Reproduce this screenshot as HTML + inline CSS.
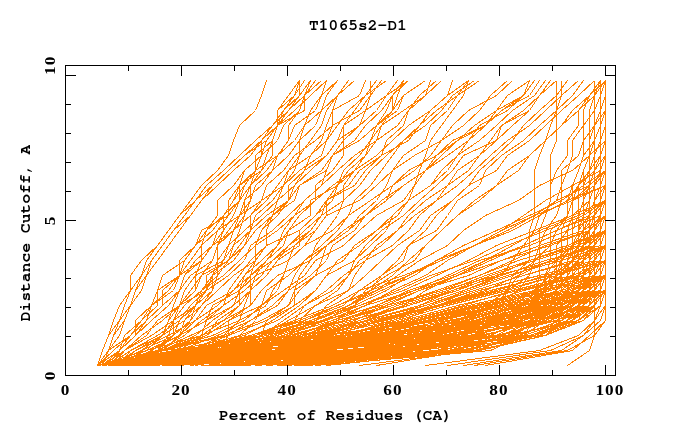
<!DOCTYPE html>
<html><head><meta charset="utf-8"><title>T1065s2-D1</title><style>
html,body{margin:0;padding:0;background:#fff;overflow:hidden;}
svg{display:block;}
.t{font-family:"FreeMono","TeX Gyre Cursor","Liberation Mono",monospace;font-weight:bold;font-size:16px;fill:#000;}
.n{font-family:"Liberation Serif",serif;font-weight:bold;font-size:15px;letter-spacing:0.9px;fill:#000;}
</style></head><body>
<svg width="680" height="440" viewBox="0 0 680 440" xmlns="http://www.w3.org/2000/svg">
<rect width="680" height="440" fill="#fff"/>
<g fill="none" stroke="#ff8000" stroke-width="1" shape-rendering="crispEdges">
<polyline points="97.5,365.5 102.5,350.5 108.5,335.5 113.5,320.5 119.5,305.5 130.5,290.5 130.5,275.5 141.5,260.5 157.5,245.5 168.5,230.5 179.5,215.5 190.5,200.5 201.5,185.5 217.5,170.5 228.5,155.5 233.5,140.5 239.5,125.5 255.5,110.5 261.5,95.5 266.5,80.5"/>
<polyline points="425.5,365.5 539.5,350.5 578.5,335.5 594.5,320.5 600.5,305.5 605.5,290.5 605.5,275.5 605.5,260.5 605.5,245.5 605.5,230.5 605.5,215.5 605.5,200.5 605.5,185.5 605.5,170.5 605.5,155.5 605.5,140.5 605.5,125.5 605.5,110.5 605.5,95.5 605.5,80.5"/>
<polyline points="463.5,365.5 561.5,350.5 583.5,335.5 600.5,320.5 605.5,305.5 605.5,290.5 605.5,275.5 605.5,260.5 605.5,245.5 605.5,230.5 605.5,215.5 605.5,200.5 605.5,185.5 605.5,170.5 605.5,155.5 605.5,140.5 605.5,125.5 605.5,110.5 605.5,95.5 605.5,80.5"/>
<polyline points="485.5,365.5 572.5,350.5 589.5,335.5 605.5,320.5 605.5,305.5 605.5,290.5 605.5,275.5 605.5,260.5 605.5,245.5 605.5,230.5 605.5,215.5 605.5,200.5 605.5,185.5 605.5,170.5 605.5,155.5 605.5,140.5 605.5,125.5 605.5,110.5 605.5,95.5 605.5,80.5"/>
<polyline points="474.5,365.5 567.5,350.5 594.5,335.5 605.5,320.5 605.5,305.5 605.5,290.5 605.5,275.5 605.5,260.5 605.5,245.5 605.5,230.5 605.5,215.5 605.5,200.5 605.5,185.5 605.5,170.5 605.5,155.5 605.5,140.5 605.5,125.5 605.5,110.5 605.5,95.5 605.5,80.5"/>
<polyline points="447.5,365.5 550.5,350.5 583.5,335.5 594.5,320.5 605.5,305.5 605.5,290.5 605.5,275.5 605.5,260.5 605.5,245.5 605.5,230.5 605.5,215.5 605.5,200.5 605.5,185.5 605.5,170.5 605.5,155.5 605.5,140.5 605.5,125.5 605.5,110.5 605.5,95.5 605.5,80.5"/>
<polyline points="97.5,365.5 102.5,350.5 108.5,335.5 119.5,320.5 124.5,305.5 130.5,290.5 141.5,275.5 146.5,260.5 157.5,245.5 168.5,230.5 179.5,215.5 195.5,200.5 206.5,185.5 223.5,170.5 239.5,155.5 255.5,140.5 272.5,125.5 283.5,110.5 294.5,95.5 304.5,80.5"/>
<polyline points="102.5,365.5 108.5,350.5 113.5,335.5 119.5,320.5 130.5,305.5 135.5,290.5 141.5,275.5 151.5,260.5 162.5,245.5 173.5,230.5 184.5,215.5 195.5,200.5 212.5,185.5 228.5,170.5 244.5,155.5 261.5,140.5 277.5,125.5 288.5,110.5 304.5,95.5 315.5,80.5"/>
<polyline points="97.5,365.5 108.5,350.5 113.5,335.5 124.5,320.5 130.5,305.5 135.5,290.5 146.5,275.5 151.5,260.5 162.5,245.5 173.5,230.5 190.5,215.5 201.5,200.5 212.5,185.5 228.5,170.5 244.5,155.5 266.5,140.5 277.5,125.5 294.5,110.5 310.5,95.5 326.5,80.5"/>
<polyline points="102.5,365.5 108.5,350.5 119.5,335.5 124.5,320.5 130.5,305.5 141.5,290.5 146.5,275.5 157.5,260.5 168.5,245.5 179.5,230.5 190.5,215.5 201.5,200.5 217.5,185.5 233.5,170.5 250.5,155.5 261.5,140.5 272.5,125.5 288.5,110.5 299.5,95.5 310.5,80.5"/>
<polyline points="108.5,365.5 250.5,350.5 430.5,335.5 512.5,320.5 556.5,305.5 567.5,290.5 567.5,275.5 578.5,260.5 583.5,245.5 589.5,230.5 589.5,215.5 589.5,200.5 589.5,185.5 594.5,170.5 594.5,155.5 600.5,140.5 605.5,125.5 605.5,110.5 605.5,95.5 605.5,80.5"/>
<polyline points="102.5,365.5 179.5,350.5 343.5,335.5 468.5,320.5 518.5,305.5 545.5,290.5 550.5,275.5 561.5,260.5 572.5,245.5 572.5,230.5 572.5,215.5 572.5,200.5 578.5,185.5 589.5,170.5 589.5,155.5 594.5,140.5 594.5,125.5 594.5,110.5 600.5,95.5 605.5,80.5"/>
<polyline points="97.5,365.5 212.5,350.5 414.5,335.5 507.5,320.5 539.5,305.5 556.5,290.5 556.5,275.5 556.5,260.5 567.5,245.5 567.5,230.5 572.5,215.5 589.5,200.5 594.5,185.5 600.5,170.5 600.5,155.5 605.5,140.5 605.5,125.5 605.5,110.5 605.5,95.5 605.5,80.5"/>
<polyline points="113.5,365.5 277.5,350.5 457.5,335.5 539.5,320.5 561.5,305.5 583.5,290.5 583.5,275.5 589.5,260.5 594.5,245.5 600.5,230.5 605.5,215.5 605.5,200.5 605.5,185.5 605.5,170.5 605.5,155.5 605.5,140.5 605.5,125.5 605.5,110.5 605.5,95.5 605.5,80.5"/>
<polyline points="97.5,365.5 195.5,350.5 381.5,335.5 485.5,320.5 518.5,305.5 539.5,290.5 545.5,275.5 550.5,260.5 550.5,245.5 556.5,230.5 567.5,215.5 567.5,200.5 572.5,185.5 578.5,170.5 583.5,155.5 583.5,140.5 594.5,125.5 600.5,110.5 600.5,95.5 605.5,80.5"/>
<polyline points="113.5,365.5 337.5,350.5 496.5,335.5 556.5,320.5 572.5,305.5 583.5,290.5 594.5,275.5 594.5,260.5 600.5,245.5 600.5,230.5 600.5,215.5 600.5,200.5 605.5,185.5 605.5,170.5 605.5,155.5 605.5,140.5 605.5,125.5 605.5,110.5 605.5,95.5 605.5,80.5"/>
<polyline points="97.5,365.5 173.5,350.5 326.5,335.5 436.5,320.5 496.5,305.5 507.5,290.5 518.5,275.5 534.5,260.5 539.5,245.5 545.5,230.5 556.5,215.5 561.5,200.5 561.5,185.5 561.5,170.5 578.5,155.5 583.5,140.5 583.5,125.5 594.5,110.5 594.5,95.5 600.5,80.5"/>
<polyline points="130.5,365.5 397.5,350.5 507.5,335.5 539.5,320.5 550.5,305.5 561.5,290.5 561.5,275.5 583.5,260.5 589.5,245.5 589.5,230.5 600.5,215.5 605.5,200.5 605.5,185.5 605.5,170.5 605.5,155.5 605.5,140.5 605.5,125.5 605.5,110.5 605.5,95.5 605.5,80.5"/>
<polyline points="119.5,365.5 299.5,350.5 479.5,335.5 512.5,320.5 534.5,305.5 534.5,290.5 556.5,275.5 561.5,260.5 572.5,245.5 583.5,230.5 594.5,215.5 600.5,200.5 605.5,185.5 605.5,170.5 605.5,155.5 605.5,140.5 605.5,125.5 605.5,110.5 605.5,95.5 605.5,80.5"/>
<polyline points="108.5,365.5 206.5,350.5 392.5,335.5 490.5,320.5 523.5,305.5 534.5,290.5 539.5,275.5 539.5,260.5 539.5,245.5 539.5,230.5 545.5,215.5 550.5,200.5 550.5,185.5 550.5,170.5 550.5,155.5 556.5,140.5 556.5,125.5 556.5,110.5 561.5,95.5 561.5,80.5"/>
<polyline points="173.5,365.5 408.5,350.5 523.5,335.5 567.5,320.5 572.5,305.5 589.5,290.5 589.5,275.5 589.5,260.5 589.5,245.5 594.5,230.5 594.5,215.5 594.5,200.5 605.5,185.5 605.5,170.5 605.5,155.5 605.5,140.5 605.5,125.5 605.5,110.5 605.5,95.5 605.5,80.5"/>
<polyline points="135.5,365.5 217.5,350.5 288.5,335.5 348.5,320.5 408.5,305.5 452.5,290.5 501.5,275.5 545.5,260.5 600.5,245.5 605.5,230.5 605.5,215.5 605.5,200.5 605.5,185.5 605.5,170.5 605.5,155.5 605.5,140.5 605.5,125.5 605.5,110.5 605.5,95.5 605.5,80.5"/>
<polyline points="108.5,365.5 239.5,350.5 403.5,335.5 501.5,320.5 550.5,305.5 578.5,290.5 583.5,275.5 583.5,260.5 594.5,245.5 594.5,230.5 600.5,215.5 600.5,200.5 600.5,185.5 605.5,170.5 605.5,155.5 605.5,140.5 605.5,125.5 605.5,110.5 605.5,95.5 605.5,80.5"/>
<polyline points="157.5,365.5 228.5,350.5 304.5,335.5 370.5,320.5 436.5,305.5 496.5,290.5 545.5,275.5 600.5,260.5 605.5,245.5 605.5,230.5 605.5,215.5 605.5,200.5 605.5,185.5 605.5,170.5 605.5,155.5 605.5,140.5 605.5,125.5 605.5,110.5 605.5,95.5 605.5,80.5"/>
<polyline points="130.5,365.5 348.5,350.5 501.5,335.5 545.5,320.5 561.5,305.5 567.5,290.5 572.5,275.5 572.5,260.5 572.5,245.5 572.5,230.5 578.5,215.5 578.5,200.5 578.5,185.5 583.5,170.5 589.5,155.5 589.5,140.5 589.5,125.5 589.5,110.5 594.5,95.5 594.5,80.5"/>
<polyline points="168.5,365.5 250.5,350.5 321.5,335.5 381.5,320.5 441.5,305.5 501.5,290.5 556.5,275.5 605.5,260.5 605.5,245.5 605.5,230.5 605.5,215.5 605.5,200.5 605.5,185.5 605.5,170.5 605.5,155.5 605.5,140.5 605.5,125.5 605.5,110.5 605.5,95.5 605.5,80.5"/>
<polyline points="135.5,365.5 212.5,350.5 272.5,335.5 321.5,320.5 381.5,305.5 419.5,290.5 468.5,275.5 501.5,260.5 550.5,245.5 589.5,230.5 605.5,215.5 605.5,200.5 605.5,185.5 605.5,170.5 605.5,155.5 605.5,140.5 605.5,125.5 605.5,110.5 605.5,95.5 605.5,80.5"/>
<polyline points="217.5,365.5 436.5,350.5 518.5,335.5 561.5,320.5 572.5,305.5 578.5,290.5 578.5,275.5 578.5,260.5 583.5,245.5 583.5,230.5 583.5,215.5 583.5,200.5 589.5,185.5 589.5,170.5 589.5,155.5 589.5,140.5 594.5,125.5 594.5,110.5 594.5,95.5 605.5,80.5"/>
<polyline points="108.5,365.5 201.5,350.5 365.5,335.5 474.5,320.5 534.5,305.5 567.5,290.5 583.5,275.5 594.5,260.5 605.5,245.5 605.5,230.5 605.5,215.5 605.5,200.5 605.5,185.5 605.5,170.5 605.5,155.5 605.5,140.5 605.5,125.5 605.5,110.5 605.5,95.5 605.5,80.5"/>
<polyline points="97.5,365.5 162.5,350.5 321.5,335.5 436.5,320.5 485.5,305.5 507.5,290.5 512.5,275.5 529.5,260.5 529.5,245.5 529.5,230.5 534.5,215.5 534.5,200.5 534.5,185.5 534.5,170.5 539.5,155.5 545.5,140.5 550.5,125.5 556.5,110.5 556.5,95.5 556.5,80.5"/>
<polyline points="201.5,365.5 419.5,350.5 529.5,335.5 572.5,320.5 594.5,305.5 600.5,290.5 605.5,275.5 605.5,260.5 605.5,245.5 605.5,230.5 605.5,215.5 605.5,200.5 605.5,185.5 605.5,170.5 605.5,155.5 605.5,140.5 605.5,125.5 605.5,110.5 605.5,95.5 605.5,80.5"/>
<polyline points="195.5,365.5 283.5,350.5 354.5,335.5 408.5,320.5 468.5,305.5 534.5,290.5 594.5,275.5 605.5,260.5 605.5,245.5 605.5,230.5 605.5,215.5 605.5,200.5 605.5,185.5 605.5,170.5 605.5,155.5 605.5,140.5 605.5,125.5 605.5,110.5 605.5,95.5 605.5,80.5"/>
<polyline points="130.5,365.5 184.5,350.5 250.5,335.5 294.5,320.5 332.5,305.5 359.5,290.5 403.5,275.5 441.5,260.5 474.5,245.5 507.5,230.5 534.5,215.5 572.5,200.5 605.5,185.5 605.5,170.5 605.5,155.5 605.5,140.5 605.5,125.5 605.5,110.5 605.5,95.5 605.5,80.5"/>
<polyline points="113.5,365.5 157.5,350.5 223.5,335.5 261.5,320.5 288.5,305.5 299.5,290.5 315.5,275.5 343.5,260.5 354.5,245.5 376.5,230.5 397.5,215.5 408.5,200.5 430.5,185.5 447.5,170.5 457.5,155.5 479.5,140.5 496.5,125.5 512.5,110.5 534.5,95.5 545.5,80.5"/>
<polyline points="135.5,365.5 223.5,350.5 315.5,335.5 365.5,320.5 425.5,305.5 474.5,290.5 523.5,275.5 578.5,260.5 605.5,245.5 605.5,230.5 605.5,215.5 605.5,200.5 605.5,185.5 605.5,170.5 605.5,155.5 605.5,140.5 605.5,125.5 605.5,110.5 605.5,95.5 605.5,80.5"/>
<polyline points="113.5,365.5 272.5,350.5 441.5,335.5 518.5,320.5 523.5,305.5 545.5,290.5 556.5,275.5 556.5,260.5 572.5,245.5 578.5,230.5 589.5,215.5 594.5,200.5 605.5,185.5 605.5,170.5 605.5,155.5 605.5,140.5 605.5,125.5 605.5,110.5 605.5,95.5 605.5,80.5"/>
<polyline points="113.5,365.5 135.5,350.5 168.5,335.5 195.5,320.5 206.5,305.5 233.5,290.5 250.5,275.5 272.5,260.5 294.5,245.5 315.5,230.5 326.5,215.5 359.5,200.5 376.5,185.5 392.5,170.5 414.5,155.5 441.5,140.5 452.5,125.5 468.5,110.5 496.5,95.5 512.5,80.5"/>
<polyline points="244.5,365.5 447.5,350.5 512.5,335.5 539.5,320.5 545.5,305.5 556.5,290.5 561.5,275.5 561.5,260.5 561.5,245.5 561.5,230.5 567.5,215.5 567.5,200.5 578.5,185.5 594.5,170.5 594.5,155.5 594.5,140.5 600.5,125.5 600.5,110.5 605.5,95.5 605.5,80.5"/>
<polyline points="141.5,365.5 217.5,350.5 261.5,335.5 310.5,320.5 359.5,305.5 403.5,290.5 436.5,275.5 468.5,260.5 496.5,245.5 534.5,230.5 572.5,215.5 605.5,200.5 605.5,185.5 605.5,170.5 605.5,155.5 605.5,140.5 605.5,125.5 605.5,110.5 605.5,95.5 605.5,80.5"/>
<polyline points="195.5,365.5 272.5,350.5 337.5,335.5 403.5,320.5 457.5,305.5 518.5,290.5 578.5,275.5 605.5,260.5 605.5,245.5 605.5,230.5 605.5,215.5 605.5,200.5 605.5,185.5 605.5,170.5 605.5,155.5 605.5,140.5 605.5,125.5 605.5,110.5 605.5,95.5 605.5,80.5"/>
<polyline points="113.5,365.5 146.5,350.5 179.5,335.5 206.5,320.5 212.5,305.5 239.5,290.5 255.5,275.5 288.5,260.5 304.5,245.5 332.5,230.5 348.5,215.5 370.5,200.5 392.5,185.5 408.5,170.5 436.5,155.5 452.5,140.5 485.5,125.5 496.5,110.5 523.5,95.5 534.5,80.5"/>
<polyline points="135.5,365.5 239.5,350.5 299.5,335.5 354.5,320.5 386.5,305.5 441.5,290.5 479.5,275.5 518.5,260.5 567.5,245.5 605.5,230.5 605.5,215.5 605.5,200.5 605.5,185.5 605.5,170.5 605.5,155.5 605.5,140.5 605.5,125.5 605.5,110.5 605.5,95.5 605.5,80.5"/>
<polyline points="124.5,365.5 376.5,350.5 501.5,335.5 550.5,320.5 578.5,305.5 594.5,290.5 605.5,275.5 605.5,260.5 605.5,245.5 605.5,230.5 605.5,215.5 605.5,200.5 605.5,185.5 605.5,170.5 605.5,155.5 605.5,140.5 605.5,125.5 605.5,110.5 605.5,95.5 605.5,80.5"/>
<polyline points="108.5,365.5 130.5,350.5 157.5,335.5 179.5,320.5 190.5,305.5 206.5,290.5 212.5,275.5 233.5,260.5 244.5,245.5 255.5,230.5 272.5,215.5 294.5,200.5 299.5,185.5 321.5,170.5 332.5,155.5 354.5,140.5 365.5,125.5 381.5,110.5 392.5,95.5 408.5,80.5"/>
<polyline points="119.5,365.5 195.5,350.5 255.5,335.5 304.5,320.5 343.5,305.5 359.5,290.5 381.5,275.5 397.5,260.5 408.5,245.5 425.5,230.5 436.5,215.5 452.5,200.5 468.5,185.5 479.5,170.5 496.5,155.5 512.5,140.5 523.5,125.5 539.5,110.5 556.5,95.5 567.5,80.5"/>
<polyline points="108.5,365.5 201.5,350.5 343.5,335.5 441.5,320.5 507.5,305.5 534.5,290.5 561.5,275.5 578.5,260.5 583.5,245.5 594.5,230.5 605.5,215.5 605.5,200.5 605.5,185.5 605.5,170.5 605.5,155.5 605.5,140.5 605.5,125.5 605.5,110.5 605.5,95.5 605.5,80.5"/>
<polyline points="102.5,365.5 124.5,350.5 151.5,335.5 173.5,320.5 184.5,305.5 201.5,290.5 223.5,275.5 239.5,260.5 255.5,245.5 277.5,230.5 294.5,215.5 315.5,200.5 332.5,185.5 354.5,170.5 376.5,155.5 392.5,140.5 408.5,125.5 430.5,110.5 447.5,95.5 468.5,80.5"/>
<polyline points="277.5,365.5 457.5,350.5 496.5,335.5 523.5,320.5 556.5,305.5 583.5,290.5 605.5,275.5 605.5,260.5 605.5,245.5 605.5,230.5 605.5,215.5 605.5,200.5 605.5,185.5 605.5,170.5 605.5,155.5 605.5,140.5 605.5,125.5 605.5,110.5 605.5,95.5 605.5,80.5"/>
<polyline points="141.5,365.5 217.5,350.5 283.5,335.5 332.5,320.5 376.5,305.5 414.5,290.5 457.5,275.5 490.5,260.5 523.5,245.5 556.5,230.5 589.5,215.5 605.5,200.5 605.5,185.5 605.5,170.5 605.5,155.5 605.5,140.5 605.5,125.5 605.5,110.5 605.5,95.5 605.5,80.5"/>
<polyline points="97.5,365.5 146.5,350.5 201.5,335.5 239.5,320.5 244.5,305.5 250.5,290.5 250.5,275.5 255.5,260.5 255.5,245.5 261.5,230.5 272.5,215.5 277.5,200.5 283.5,185.5 294.5,170.5 299.5,155.5 299.5,140.5 304.5,125.5 310.5,110.5 321.5,95.5 326.5,80.5"/>
<polyline points="162.5,365.5 272.5,350.5 348.5,335.5 419.5,320.5 479.5,305.5 545.5,290.5 600.5,275.5 605.5,260.5 605.5,245.5 605.5,230.5 605.5,215.5 605.5,200.5 605.5,185.5 605.5,170.5 605.5,155.5 605.5,140.5 605.5,125.5 605.5,110.5 605.5,95.5 605.5,80.5"/>
<polyline points="97.5,365.5 162.5,350.5 228.5,335.5 266.5,320.5 288.5,305.5 294.5,290.5 299.5,275.5 310.5,260.5 315.5,245.5 326.5,230.5 337.5,215.5 343.5,200.5 343.5,185.5 354.5,170.5 365.5,155.5 370.5,140.5 381.5,125.5 392.5,110.5 397.5,95.5 403.5,80.5"/>
<polyline points="113.5,365.5 124.5,350.5 141.5,335.5 162.5,320.5 179.5,305.5 184.5,290.5 195.5,275.5 223.5,260.5 228.5,245.5 244.5,230.5 261.5,215.5 277.5,200.5 294.5,185.5 310.5,170.5 326.5,155.5 337.5,140.5 359.5,125.5 365.5,110.5 386.5,95.5 408.5,80.5"/>
<polyline points="179.5,365.5 250.5,350.5 304.5,335.5 359.5,320.5 397.5,305.5 447.5,290.5 485.5,275.5 529.5,260.5 572.5,245.5 605.5,230.5 605.5,215.5 605.5,200.5 605.5,185.5 605.5,170.5 605.5,155.5 605.5,140.5 605.5,125.5 605.5,110.5 605.5,95.5 605.5,80.5"/>
<polyline points="124.5,365.5 321.5,350.5 479.5,335.5 550.5,320.5 589.5,305.5 600.5,290.5 605.5,275.5 605.5,260.5 605.5,245.5 605.5,230.5 605.5,215.5 605.5,200.5 605.5,185.5 605.5,170.5 605.5,155.5 605.5,140.5 605.5,125.5 605.5,110.5 605.5,95.5 605.5,80.5"/>
<polyline points="130.5,365.5 157.5,350.5 190.5,335.5 223.5,320.5 250.5,305.5 261.5,290.5 277.5,275.5 310.5,260.5 326.5,245.5 343.5,230.5 365.5,215.5 386.5,200.5 403.5,185.5 425.5,170.5 436.5,155.5 457.5,140.5 485.5,125.5 501.5,110.5 529.5,95.5 539.5,80.5"/>
<polyline points="228.5,365.5 326.5,350.5 381.5,335.5 452.5,320.5 512.5,305.5 578.5,290.5 605.5,275.5 605.5,260.5 605.5,245.5 605.5,230.5 605.5,215.5 605.5,200.5 605.5,185.5 605.5,170.5 605.5,155.5 605.5,140.5 605.5,125.5 605.5,110.5 605.5,95.5 605.5,80.5"/>
<polyline points="97.5,365.5 119.5,350.5 135.5,335.5 151.5,320.5 168.5,305.5 179.5,290.5 190.5,275.5 212.5,260.5 217.5,245.5 233.5,230.5 250.5,215.5 261.5,200.5 283.5,185.5 288.5,170.5 310.5,155.5 326.5,140.5 337.5,125.5 348.5,110.5 365.5,95.5 386.5,80.5"/>
<polyline points="299.5,365.5 479.5,350.5 545.5,335.5 578.5,320.5 583.5,305.5 600.5,290.5 600.5,275.5 600.5,260.5 600.5,245.5 605.5,230.5 605.5,215.5 605.5,200.5 605.5,185.5 605.5,170.5 605.5,155.5 605.5,140.5 605.5,125.5 605.5,110.5 605.5,95.5 605.5,80.5"/>
<polyline points="119.5,365.5 190.5,350.5 266.5,335.5 326.5,320.5 365.5,305.5 392.5,290.5 425.5,275.5 447.5,260.5 474.5,245.5 501.5,230.5 523.5,215.5 545.5,200.5 572.5,185.5 600.5,170.5 605.5,155.5 605.5,140.5 605.5,125.5 605.5,110.5 605.5,95.5 605.5,80.5"/>
<polyline points="168.5,365.5 250.5,350.5 315.5,335.5 376.5,320.5 436.5,305.5 479.5,290.5 539.5,275.5 594.5,260.5 605.5,245.5 605.5,230.5 605.5,215.5 605.5,200.5 605.5,185.5 605.5,170.5 605.5,155.5 605.5,140.5 605.5,125.5 605.5,110.5 605.5,95.5 605.5,80.5"/>
<polyline points="119.5,365.5 135.5,350.5 162.5,335.5 184.5,320.5 201.5,305.5 217.5,290.5 233.5,275.5 255.5,260.5 266.5,245.5 299.5,230.5 315.5,215.5 326.5,200.5 354.5,185.5 365.5,170.5 381.5,155.5 408.5,140.5 419.5,125.5 436.5,110.5 457.5,95.5 479.5,80.5"/>
<polyline points="135.5,365.5 190.5,350.5 239.5,335.5 277.5,320.5 299.5,305.5 315.5,290.5 326.5,275.5 354.5,260.5 365.5,245.5 381.5,230.5 403.5,215.5 419.5,200.5 436.5,185.5 452.5,170.5 463.5,155.5 496.5,140.5 501.5,125.5 523.5,110.5 539.5,95.5 550.5,80.5"/>
<polyline points="113.5,365.5 288.5,350.5 468.5,335.5 539.5,320.5 572.5,305.5 583.5,290.5 600.5,275.5 605.5,260.5 605.5,245.5 605.5,230.5 605.5,215.5 605.5,200.5 605.5,185.5 605.5,170.5 605.5,155.5 605.5,140.5 605.5,125.5 605.5,110.5 605.5,95.5 605.5,80.5"/>
<polyline points="102.5,365.5 119.5,350.5 130.5,335.5 146.5,320.5 162.5,305.5 179.5,290.5 184.5,275.5 195.5,260.5 212.5,245.5 233.5,230.5 239.5,215.5 261.5,200.5 266.5,185.5 283.5,170.5 294.5,155.5 315.5,140.5 332.5,125.5 332.5,110.5 359.5,95.5 365.5,80.5"/>
<polyline points="130.5,365.5 195.5,350.5 261.5,335.5 315.5,320.5 348.5,305.5 370.5,290.5 381.5,275.5 403.5,260.5 408.5,245.5 436.5,230.5 447.5,215.5 457.5,200.5 479.5,185.5 485.5,170.5 501.5,155.5 523.5,140.5 539.5,125.5 556.5,110.5 572.5,95.5 583.5,80.5"/>
<polyline points="212.5,365.5 299.5,350.5 359.5,335.5 425.5,320.5 490.5,305.5 550.5,290.5 605.5,275.5 605.5,260.5 605.5,245.5 605.5,230.5 605.5,215.5 605.5,200.5 605.5,185.5 605.5,170.5 605.5,155.5 605.5,140.5 605.5,125.5 605.5,110.5 605.5,95.5 605.5,80.5"/>
<polyline points="108.5,365.5 162.5,350.5 195.5,335.5 212.5,320.5 233.5,305.5 250.5,290.5 266.5,275.5 277.5,260.5 288.5,245.5 304.5,230.5 321.5,215.5 326.5,200.5 348.5,185.5 359.5,170.5 381.5,155.5 386.5,140.5 403.5,125.5 408.5,110.5 425.5,95.5 441.5,80.5"/>
<polyline points="130.5,365.5 223.5,350.5 326.5,335.5 392.5,320.5 441.5,305.5 463.5,290.5 501.5,275.5 512.5,260.5 523.5,245.5 534.5,230.5 539.5,215.5 556.5,200.5 561.5,185.5 567.5,170.5 572.5,155.5 572.5,140.5 583.5,125.5 583.5,110.5 589.5,95.5 600.5,80.5"/>
<polyline points="124.5,365.5 162.5,350.5 212.5,335.5 244.5,320.5 261.5,305.5 283.5,290.5 304.5,275.5 315.5,260.5 343.5,245.5 359.5,230.5 376.5,215.5 403.5,200.5 414.5,185.5 425.5,170.5 447.5,155.5 468.5,140.5 479.5,125.5 507.5,110.5 523.5,95.5 534.5,80.5"/>
<polyline points="141.5,365.5 233.5,350.5 288.5,335.5 343.5,320.5 376.5,305.5 408.5,290.5 452.5,275.5 485.5,260.5 512.5,245.5 539.5,230.5 578.5,215.5 605.5,200.5 605.5,185.5 605.5,170.5 605.5,155.5 605.5,140.5 605.5,125.5 605.5,110.5 605.5,95.5 605.5,80.5"/>
<polyline points="108.5,365.5 124.5,350.5 146.5,335.5 157.5,320.5 179.5,305.5 195.5,290.5 201.5,275.5 228.5,260.5 233.5,245.5 250.5,230.5 266.5,215.5 288.5,200.5 299.5,185.5 326.5,170.5 332.5,155.5 359.5,140.5 376.5,125.5 392.5,110.5 403.5,95.5 425.5,80.5"/>
<polyline points="283.5,365.5 474.5,350.5 523.5,335.5 534.5,320.5 545.5,305.5 545.5,290.5 545.5,275.5 556.5,260.5 556.5,245.5 567.5,230.5 572.5,215.5 572.5,200.5 572.5,185.5 578.5,170.5 583.5,155.5 594.5,140.5 600.5,125.5 605.5,110.5 605.5,95.5 605.5,80.5"/>
<polyline points="119.5,365.5 190.5,350.5 250.5,335.5 299.5,320.5 315.5,305.5 348.5,290.5 354.5,275.5 365.5,260.5 392.5,245.5 408.5,230.5 419.5,215.5 436.5,200.5 447.5,185.5 468.5,170.5 479.5,155.5 496.5,140.5 512.5,125.5 529.5,110.5 539.5,95.5 556.5,80.5"/>
<polyline points="190.5,365.5 294.5,350.5 343.5,335.5 397.5,320.5 447.5,305.5 507.5,290.5 556.5,275.5 605.5,260.5 605.5,245.5 605.5,230.5 605.5,215.5 605.5,200.5 605.5,185.5 605.5,170.5 605.5,155.5 605.5,140.5 605.5,125.5 605.5,110.5 605.5,95.5 605.5,80.5"/>
<polyline points="108.5,365.5 239.5,350.5 419.5,335.5 518.5,320.5 561.5,305.5 594.5,290.5 600.5,275.5 605.5,260.5 605.5,245.5 605.5,230.5 605.5,215.5 605.5,200.5 605.5,185.5 605.5,170.5 605.5,155.5 605.5,140.5 605.5,125.5 605.5,110.5 605.5,95.5 605.5,80.5"/>
<polyline points="102.5,365.5 119.5,350.5 124.5,335.5 141.5,320.5 151.5,305.5 168.5,290.5 179.5,275.5 201.5,260.5 212.5,245.5 217.5,230.5 239.5,215.5 250.5,200.5 255.5,185.5 272.5,170.5 288.5,155.5 299.5,140.5 315.5,125.5 321.5,110.5 337.5,95.5 354.5,80.5"/>
<polyline points="119.5,365.5 157.5,350.5 184.5,335.5 201.5,320.5 223.5,305.5 244.5,290.5 261.5,275.5 272.5,260.5 288.5,245.5 310.5,230.5 321.5,215.5 343.5,200.5 359.5,185.5 370.5,170.5 386.5,155.5 403.5,140.5 425.5,125.5 441.5,110.5 452.5,95.5 474.5,80.5"/>
<polyline points="141.5,365.5 250.5,350.5 310.5,335.5 365.5,320.5 419.5,305.5 463.5,290.5 507.5,275.5 561.5,260.5 605.5,245.5 605.5,230.5 605.5,215.5 605.5,200.5 605.5,185.5 605.5,170.5 605.5,155.5 605.5,140.5 605.5,125.5 605.5,110.5 605.5,95.5 605.5,80.5"/>
<polyline points="102.5,365.5 217.5,350.5 370.5,335.5 485.5,320.5 545.5,305.5 578.5,290.5 594.5,275.5 605.5,260.5 605.5,245.5 605.5,230.5 605.5,215.5 605.5,200.5 605.5,185.5 605.5,170.5 605.5,155.5 605.5,140.5 605.5,125.5 605.5,110.5 605.5,95.5 605.5,80.5"/>
<polyline points="146.5,365.5 212.5,350.5 277.5,335.5 304.5,320.5 337.5,305.5 370.5,290.5 408.5,275.5 436.5,260.5 463.5,245.5 496.5,230.5 529.5,215.5 561.5,200.5 583.5,185.5 605.5,170.5 605.5,155.5 605.5,140.5 605.5,125.5 605.5,110.5 605.5,95.5 605.5,80.5"/>
<polyline points="119.5,365.5 162.5,350.5 201.5,335.5 223.5,320.5 239.5,305.5 239.5,290.5 250.5,275.5 266.5,260.5 283.5,245.5 288.5,230.5 299.5,215.5 315.5,200.5 315.5,185.5 332.5,170.5 343.5,155.5 343.5,140.5 359.5,125.5 376.5,110.5 386.5,95.5 397.5,80.5"/>
<polyline points="108.5,365.5 233.5,350.5 441.5,335.5 534.5,320.5 567.5,305.5 578.5,290.5 578.5,275.5 578.5,260.5 578.5,245.5 583.5,230.5 589.5,215.5 594.5,200.5 594.5,185.5 594.5,170.5 600.5,155.5 605.5,140.5 605.5,125.5 605.5,110.5 605.5,95.5 605.5,80.5"/>
<polyline points="190.5,365.5 283.5,350.5 354.5,335.5 414.5,320.5 474.5,305.5 539.5,290.5 605.5,275.5 605.5,260.5 605.5,245.5 605.5,230.5 605.5,215.5 605.5,200.5 605.5,185.5 605.5,170.5 605.5,155.5 605.5,140.5 605.5,125.5 605.5,110.5 605.5,95.5 605.5,80.5"/>
<polyline points="108.5,365.5 141.5,350.5 173.5,335.5 179.5,320.5 195.5,305.5 201.5,290.5 212.5,275.5 217.5,260.5 228.5,245.5 233.5,230.5 244.5,215.5 250.5,200.5 250.5,185.5 255.5,170.5 261.5,155.5 277.5,140.5 283.5,125.5 299.5,110.5 304.5,95.5 310.5,80.5"/>
<polyline points="255.5,365.5 457.5,350.5 539.5,335.5 572.5,320.5 583.5,305.5 594.5,290.5 605.5,275.5 605.5,260.5 605.5,245.5 605.5,230.5 605.5,215.5 605.5,200.5 605.5,185.5 605.5,170.5 605.5,155.5 605.5,140.5 605.5,125.5 605.5,110.5 605.5,95.5 605.5,80.5"/>
<polyline points="102.5,365.5 173.5,350.5 244.5,335.5 272.5,320.5 294.5,305.5 294.5,290.5 315.5,275.5 321.5,260.5 326.5,245.5 348.5,230.5 359.5,215.5 376.5,200.5 386.5,185.5 392.5,170.5 403.5,155.5 425.5,140.5 430.5,125.5 447.5,110.5 457.5,95.5 468.5,80.5"/>
<polyline points="135.5,365.5 212.5,350.5 294.5,335.5 337.5,320.5 392.5,305.5 436.5,290.5 479.5,275.5 512.5,260.5 545.5,245.5 589.5,230.5 605.5,215.5 605.5,200.5 605.5,185.5 605.5,170.5 605.5,155.5 605.5,140.5 605.5,125.5 605.5,110.5 605.5,95.5 605.5,80.5"/>
<polyline points="119.5,365.5 130.5,350.5 162.5,335.5 168.5,320.5 179.5,305.5 206.5,290.5 206.5,275.5 228.5,260.5 239.5,245.5 250.5,230.5 255.5,215.5 272.5,200.5 283.5,185.5 299.5,170.5 321.5,155.5 326.5,140.5 332.5,125.5 359.5,110.5 370.5,95.5 370.5,80.5"/>
<polyline points="179.5,365.5 321.5,350.5 397.5,335.5 457.5,320.5 518.5,305.5 589.5,290.5 605.5,275.5 605.5,260.5 605.5,245.5 605.5,230.5 605.5,215.5 605.5,200.5 605.5,185.5 605.5,170.5 605.5,155.5 605.5,140.5 605.5,125.5 605.5,110.5 605.5,95.5 605.5,80.5"/>
<polyline points="141.5,365.5 201.5,350.5 266.5,335.5 315.5,320.5 354.5,305.5 365.5,290.5 386.5,275.5 414.5,260.5 425.5,245.5 441.5,230.5 457.5,215.5 474.5,200.5 496.5,185.5 507.5,170.5 529.5,155.5 545.5,140.5 561.5,125.5 578.5,110.5 589.5,95.5 605.5,80.5"/>
<polyline points="151.5,365.5 365.5,350.5 485.5,335.5 534.5,320.5 550.5,305.5 556.5,290.5 567.5,275.5 567.5,260.5 572.5,245.5 578.5,230.5 578.5,215.5 583.5,200.5 583.5,185.5 583.5,170.5 589.5,155.5 594.5,140.5 594.5,125.5 605.5,110.5 605.5,95.5 605.5,80.5"/>
<polyline points="130.5,365.5 212.5,350.5 261.5,335.5 283.5,320.5 304.5,305.5 326.5,290.5 343.5,275.5 365.5,260.5 376.5,245.5 397.5,230.5 408.5,215.5 425.5,200.5 447.5,185.5 457.5,170.5 479.5,155.5 490.5,140.5 501.5,125.5 529.5,110.5 539.5,95.5 556.5,80.5"/>
<polyline points="97.5,365.5 113.5,350.5 130.5,335.5 141.5,320.5 157.5,305.5 157.5,290.5 179.5,275.5 184.5,260.5 195.5,245.5 212.5,230.5 223.5,215.5 239.5,200.5 244.5,185.5 255.5,170.5 277.5,155.5 288.5,140.5 294.5,125.5 315.5,110.5 321.5,95.5 337.5,80.5"/>
<polyline points="206.5,365.5 277.5,350.5 315.5,335.5 359.5,320.5 403.5,305.5 452.5,290.5 490.5,275.5 534.5,260.5 583.5,245.5 605.5,230.5 605.5,215.5 605.5,200.5 605.5,185.5 605.5,170.5 605.5,155.5 605.5,140.5 605.5,125.5 605.5,110.5 605.5,95.5 605.5,80.5"/>
<polyline points="146.5,365.5 162.5,350.5 179.5,335.5 195.5,320.5 217.5,305.5 233.5,290.5 244.5,275.5 261.5,260.5 277.5,245.5 288.5,230.5 310.5,215.5 310.5,200.5 337.5,185.5 348.5,170.5 365.5,155.5 376.5,140.5 397.5,125.5 408.5,110.5 419.5,95.5 436.5,80.5"/>
<polyline points="315.5,365.5 490.5,350.5 523.5,335.5 545.5,320.5 572.5,305.5 600.5,290.5 605.5,275.5 605.5,260.5 605.5,245.5 605.5,230.5 605.5,215.5 605.5,200.5 605.5,185.5 605.5,170.5 605.5,155.5 605.5,140.5 605.5,125.5 605.5,110.5 605.5,95.5 605.5,80.5"/>
<polyline points="162.5,365.5 261.5,350.5 343.5,335.5 408.5,320.5 463.5,305.5 512.5,290.5 572.5,275.5 605.5,260.5 605.5,245.5 605.5,230.5 605.5,215.5 605.5,200.5 605.5,185.5 605.5,170.5 605.5,155.5 605.5,140.5 605.5,125.5 605.5,110.5 605.5,95.5 605.5,80.5"/>
<polyline points="113.5,365.5 179.5,350.5 217.5,335.5 250.5,320.5 272.5,305.5 288.5,290.5 310.5,275.5 326.5,260.5 332.5,245.5 354.5,230.5 365.5,215.5 386.5,200.5 392.5,185.5 414.5,170.5 430.5,155.5 441.5,140.5 463.5,125.5 479.5,110.5 490.5,95.5 507.5,80.5"/>
<polyline points="146.5,365.5 228.5,350.5 277.5,335.5 321.5,320.5 359.5,305.5 397.5,290.5 430.5,275.5 474.5,260.5 507.5,245.5 545.5,230.5 583.5,215.5 605.5,200.5 605.5,185.5 605.5,170.5 605.5,155.5 605.5,140.5 605.5,125.5 605.5,110.5 605.5,95.5 605.5,80.5"/>
<polyline points="124.5,365.5 272.5,350.5 408.5,335.5 490.5,320.5 550.5,305.5 600.5,290.5 605.5,275.5 605.5,260.5 605.5,245.5 605.5,230.5 605.5,215.5 605.5,200.5 605.5,185.5 605.5,170.5 605.5,155.5 605.5,140.5 605.5,125.5 605.5,110.5 605.5,95.5 605.5,80.5"/>
<polyline points="135.5,365.5 381.5,350.5 534.5,335.5 583.5,320.5 594.5,305.5 605.5,290.5 605.5,275.5 605.5,260.5 605.5,245.5 605.5,230.5 605.5,215.5 605.5,200.5 605.5,185.5 605.5,170.5 605.5,155.5 605.5,140.5 605.5,125.5 605.5,110.5 605.5,95.5 605.5,80.5"/>
<polyline points="141.5,365.5 151.5,350.5 173.5,335.5 173.5,320.5 179.5,305.5 190.5,290.5 201.5,275.5 212.5,260.5 217.5,245.5 223.5,230.5 233.5,215.5 239.5,200.5 239.5,185.5 255.5,170.5 255.5,155.5 272.5,140.5 277.5,125.5 277.5,110.5 288.5,95.5 299.5,80.5"/>
<polyline points="141.5,365.5 179.5,350.5 201.5,335.5 206.5,320.5 223.5,305.5 228.5,290.5 239.5,275.5 250.5,260.5 266.5,245.5 266.5,230.5 272.5,215.5 288.5,200.5 294.5,185.5 304.5,170.5 326.5,155.5 337.5,140.5 343.5,125.5 354.5,110.5 365.5,95.5 376.5,80.5"/>
<polyline points="223.5,365.5 277.5,350.5 321.5,335.5 359.5,320.5 408.5,305.5 457.5,290.5 496.5,275.5 556.5,260.5 594.5,245.5 605.5,230.5 605.5,215.5 605.5,200.5 605.5,185.5 605.5,170.5 605.5,155.5 605.5,140.5 605.5,125.5 605.5,110.5 605.5,95.5 605.5,80.5"/>
<polyline points="168.5,365.5 244.5,350.5 283.5,335.5 315.5,320.5 326.5,305.5 348.5,290.5 365.5,275.5 381.5,260.5 397.5,245.5 419.5,230.5 430.5,215.5 452.5,200.5 468.5,185.5 496.5,170.5 507.5,155.5 529.5,140.5 545.5,125.5 561.5,110.5 578.5,95.5 594.5,80.5"/>
<polyline points="151.5,365.5 255.5,350.5 359.5,335.5 436.5,320.5 501.5,305.5 567.5,290.5 605.5,275.5 605.5,260.5 605.5,245.5 605.5,230.5 605.5,215.5 605.5,200.5 605.5,185.5 605.5,170.5 605.5,155.5 605.5,140.5 605.5,125.5 605.5,110.5 605.5,95.5 605.5,80.5"/>
<polyline points="108.5,365.5 228.5,350.5 447.5,335.5 556.5,320.5 594.5,305.5 600.5,290.5 605.5,275.5 605.5,260.5 605.5,245.5 605.5,230.5 605.5,215.5 605.5,200.5 605.5,185.5 605.5,170.5 605.5,155.5 605.5,140.5 605.5,125.5 605.5,110.5 605.5,95.5 605.5,80.5"/>
<polyline points="239.5,365.5 414.5,350.5 490.5,335.5 523.5,320.5 534.5,305.5 545.5,290.5 561.5,275.5 567.5,260.5 578.5,245.5 589.5,230.5 594.5,215.5 605.5,200.5 605.5,185.5 605.5,170.5 605.5,155.5 605.5,140.5 605.5,125.5 605.5,110.5 605.5,95.5 605.5,80.5"/>
<polyline points="102.5,365.5 108.5,350.5 130.5,335.5 146.5,320.5 151.5,305.5 173.5,290.5 179.5,275.5 190.5,260.5 201.5,245.5 217.5,230.5 228.5,215.5 239.5,200.5 250.5,185.5 266.5,170.5 277.5,155.5 294.5,140.5 304.5,125.5 321.5,110.5 326.5,95.5 337.5,80.5"/>
<polyline points="146.5,365.5 244.5,350.5 294.5,335.5 310.5,320.5 348.5,305.5 381.5,290.5 414.5,275.5 436.5,260.5 474.5,245.5 501.5,230.5 534.5,215.5 556.5,200.5 589.5,185.5 605.5,170.5 605.5,155.5 605.5,140.5 605.5,125.5 605.5,110.5 605.5,95.5 605.5,80.5"/>
<polyline points="119.5,365.5 162.5,350.5 206.5,335.5 228.5,320.5 261.5,305.5 266.5,290.5 288.5,275.5 304.5,260.5 326.5,245.5 348.5,230.5 365.5,215.5 381.5,200.5 403.5,185.5 425.5,170.5 441.5,155.5 457.5,140.5 474.5,125.5 496.5,110.5 507.5,95.5 529.5,80.5"/>
<polyline points="173.5,365.5 310.5,350.5 376.5,335.5 430.5,320.5 479.5,305.5 523.5,290.5 583.5,275.5 605.5,260.5 605.5,245.5 605.5,230.5 605.5,215.5 605.5,200.5 605.5,185.5 605.5,170.5 605.5,155.5 605.5,140.5 605.5,125.5 605.5,110.5 605.5,95.5 605.5,80.5"/>
<polyline points="97.5,365.5 157.5,350.5 381.5,335.5 539.5,320.5 589.5,305.5 605.5,290.5 605.5,275.5 605.5,260.5 605.5,245.5 605.5,230.5 605.5,215.5 605.5,200.5 605.5,185.5 605.5,170.5 605.5,155.5 605.5,140.5 605.5,125.5 605.5,110.5 605.5,95.5 605.5,80.5"/>
<polyline points="124.5,365.5 141.5,350.5 162.5,335.5 173.5,320.5 195.5,305.5 206.5,290.5 228.5,275.5 244.5,260.5 250.5,245.5 272.5,230.5 288.5,215.5 304.5,200.5 321.5,185.5 337.5,170.5 354.5,155.5 376.5,140.5 381.5,125.5 403.5,110.5 425.5,95.5 430.5,80.5"/>
<polyline points="212.5,365.5 255.5,350.5 299.5,335.5 332.5,320.5 365.5,305.5 414.5,290.5 447.5,275.5 479.5,260.5 529.5,245.5 567.5,230.5 600.5,215.5 605.5,200.5 605.5,185.5 605.5,170.5 605.5,155.5 605.5,140.5 605.5,125.5 605.5,110.5 605.5,95.5 605.5,80.5"/>
<polyline points="376.5,365.5 468.5,350.5 501.5,335.5 534.5,320.5 556.5,305.5 561.5,290.5 578.5,275.5 589.5,260.5 605.5,245.5 605.5,230.5 605.5,215.5 605.5,200.5 605.5,185.5 605.5,170.5 605.5,155.5 605.5,140.5 605.5,125.5 605.5,110.5 605.5,95.5 605.5,80.5"/>
<polyline points="141.5,365.5 403.5,350.5 545.5,335.5 583.5,320.5 600.5,305.5 600.5,290.5 605.5,275.5 605.5,260.5 605.5,245.5 605.5,230.5 605.5,215.5 605.5,200.5 605.5,185.5 605.5,170.5 605.5,155.5 605.5,140.5 605.5,125.5 605.5,110.5 605.5,95.5 605.5,80.5"/>
<polyline points="162.5,365.5 272.5,350.5 365.5,335.5 447.5,320.5 534.5,305.5 605.5,290.5 605.5,275.5 605.5,260.5 605.5,245.5 605.5,230.5 605.5,215.5 605.5,200.5 605.5,185.5 605.5,170.5 605.5,155.5 605.5,140.5 605.5,125.5 605.5,110.5 605.5,95.5 605.5,80.5"/>
<polyline points="119.5,365.5 157.5,350.5 173.5,335.5 190.5,320.5 201.5,305.5 212.5,290.5 217.5,275.5 228.5,260.5 244.5,245.5 250.5,230.5 250.5,215.5 266.5,200.5 277.5,185.5 288.5,170.5 299.5,155.5 310.5,140.5 321.5,125.5 326.5,110.5 337.5,95.5 348.5,80.5"/>
<polyline points="124.5,365.5 190.5,350.5 228.5,335.5 250.5,320.5 277.5,305.5 288.5,290.5 294.5,275.5 304.5,260.5 321.5,245.5 337.5,230.5 348.5,215.5 354.5,200.5 370.5,185.5 381.5,170.5 392.5,155.5 403.5,140.5 419.5,125.5 430.5,110.5 447.5,95.5 452.5,80.5"/>
<polyline points="135.5,365.5 233.5,350.5 332.5,335.5 381.5,320.5 425.5,305.5 468.5,290.5 512.5,275.5 550.5,260.5 594.5,245.5 605.5,230.5 605.5,215.5 605.5,200.5 605.5,185.5 605.5,170.5 605.5,155.5 605.5,140.5 605.5,125.5 605.5,110.5 605.5,95.5 605.5,80.5"/>
<polyline points="130.5,365.5 201.5,350.5 255.5,335.5 294.5,320.5 304.5,305.5 332.5,290.5 348.5,275.5 359.5,260.5 381.5,245.5 397.5,230.5 414.5,215.5 436.5,200.5 457.5,185.5 474.5,170.5 490.5,155.5 507.5,140.5 529.5,125.5 545.5,110.5 561.5,95.5 578.5,80.5"/>
<polyline points="151.5,365.5 376.5,350.5 512.5,335.5 572.5,320.5 589.5,305.5 594.5,290.5 594.5,275.5 600.5,260.5 600.5,245.5 600.5,230.5 605.5,215.5 605.5,200.5 605.5,185.5 605.5,170.5 605.5,155.5 605.5,140.5 605.5,125.5 605.5,110.5 605.5,95.5 605.5,80.5"/>
<polyline points="119.5,365.5 359.5,350.5 474.5,335.5 496.5,320.5 501.5,305.5 507.5,290.5 529.5,275.5 534.5,260.5 550.5,245.5 550.5,230.5 567.5,215.5 572.5,200.5 589.5,185.5 594.5,170.5 605.5,155.5 605.5,140.5 605.5,125.5 605.5,110.5 605.5,95.5 605.5,80.5"/>
<polyline points="113.5,365.5 119.5,350.5 135.5,335.5 146.5,320.5 162.5,305.5 162.5,290.5 179.5,275.5 179.5,260.5 195.5,245.5 201.5,230.5 228.5,215.5 228.5,200.5 239.5,185.5 261.5,170.5 266.5,155.5 272.5,140.5 277.5,125.5 304.5,110.5 304.5,95.5 321.5,80.5"/>
<polyline points="113.5,365.5 255.5,350.5 425.5,335.5 523.5,320.5 567.5,305.5 589.5,290.5 600.5,275.5 600.5,260.5 605.5,245.5 605.5,230.5 605.5,215.5 605.5,200.5 605.5,185.5 605.5,170.5 605.5,155.5 605.5,140.5 605.5,125.5 605.5,110.5 605.5,95.5 605.5,80.5"/>
<polyline points="179.5,365.5 266.5,350.5 283.5,335.5 326.5,320.5 348.5,305.5 376.5,290.5 397.5,275.5 419.5,260.5 447.5,245.5 463.5,230.5 485.5,215.5 518.5,200.5 539.5,185.5 572.5,170.5 589.5,155.5 605.5,140.5 605.5,125.5 605.5,110.5 605.5,95.5 605.5,80.5"/>
<polyline points="113.5,365.5 173.5,350.5 206.5,335.5 217.5,320.5 239.5,305.5 250.5,290.5 255.5,275.5 266.5,260.5 277.5,245.5 283.5,230.5 294.5,215.5 304.5,200.5 321.5,185.5 326.5,170.5 332.5,155.5 343.5,140.5 343.5,125.5 365.5,110.5 370.5,95.5 381.5,80.5"/>
<polyline points="162.5,365.5 294.5,350.5 381.5,335.5 463.5,320.5 523.5,305.5 600.5,290.5 605.5,275.5 605.5,260.5 605.5,245.5 605.5,230.5 605.5,215.5 605.5,200.5 605.5,185.5 605.5,170.5 605.5,155.5 605.5,140.5 605.5,125.5 605.5,110.5 605.5,95.5 605.5,80.5"/>
<polyline points="151.5,365.5 244.5,350.5 315.5,335.5 386.5,320.5 436.5,305.5 490.5,290.5 550.5,275.5 605.5,260.5 605.5,245.5 605.5,230.5 605.5,215.5 605.5,200.5 605.5,185.5 605.5,170.5 605.5,155.5 605.5,140.5 605.5,125.5 605.5,110.5 605.5,95.5 605.5,80.5"/>
<polyline points="102.5,365.5 206.5,350.5 376.5,335.5 496.5,320.5 556.5,305.5 583.5,290.5 600.5,275.5 605.5,260.5 605.5,245.5 605.5,230.5 605.5,215.5 605.5,200.5 605.5,185.5 605.5,170.5 605.5,155.5 605.5,140.5 605.5,125.5 605.5,110.5 605.5,95.5 605.5,80.5"/>
<polyline points="173.5,365.5 255.5,350.5 304.5,335.5 337.5,320.5 386.5,305.5 419.5,290.5 457.5,275.5 501.5,260.5 539.5,245.5 583.5,230.5 605.5,215.5 605.5,200.5 605.5,185.5 605.5,170.5 605.5,155.5 605.5,140.5 605.5,125.5 605.5,110.5 605.5,95.5 605.5,80.5"/>
<polyline points="326.5,365.5 468.5,350.5 523.5,335.5 567.5,320.5 578.5,305.5 600.5,290.5 605.5,275.5 605.5,260.5 605.5,245.5 605.5,230.5 605.5,215.5 605.5,200.5 605.5,185.5 605.5,170.5 605.5,155.5 605.5,140.5 605.5,125.5 605.5,110.5 605.5,95.5 605.5,80.5"/>
<polyline points="119.5,365.5 190.5,350.5 223.5,335.5 239.5,320.5 266.5,305.5 272.5,290.5 283.5,275.5 288.5,260.5 304.5,245.5 315.5,230.5 326.5,215.5 326.5,200.5 337.5,185.5 343.5,170.5 359.5,155.5 370.5,140.5 376.5,125.5 386.5,110.5 392.5,95.5 403.5,80.5"/>
<polyline points="141.5,365.5 173.5,350.5 179.5,335.5 184.5,320.5 195.5,305.5 212.5,290.5 212.5,275.5 223.5,260.5 233.5,245.5 239.5,230.5 244.5,215.5 244.5,200.5 261.5,185.5 272.5,170.5 277.5,155.5 288.5,140.5 288.5,125.5 299.5,110.5 304.5,95.5 315.5,80.5"/>
<polyline points="217.5,365.5 299.5,350.5 359.5,335.5 430.5,320.5 496.5,305.5 561.5,290.5 605.5,275.5 605.5,260.5 605.5,245.5 605.5,230.5 605.5,215.5 605.5,200.5 605.5,185.5 605.5,170.5 605.5,155.5 605.5,140.5 605.5,125.5 605.5,110.5 605.5,95.5 605.5,80.5"/>
<polyline points="108.5,365.5 304.5,350.5 507.5,335.5 578.5,320.5 594.5,305.5 600.5,290.5 600.5,275.5 605.5,260.5 605.5,245.5 605.5,230.5 605.5,215.5 605.5,200.5 605.5,185.5 605.5,170.5 605.5,155.5 605.5,140.5 605.5,125.5 605.5,110.5 605.5,95.5 605.5,80.5"/>
<polyline points="277.5,365.5 436.5,350.5 485.5,335.5 529.5,320.5 572.5,305.5 594.5,290.5 605.5,275.5 605.5,260.5 605.5,245.5 605.5,230.5 605.5,215.5 605.5,200.5 605.5,185.5 605.5,170.5 605.5,155.5 605.5,140.5 605.5,125.5 605.5,110.5 605.5,95.5 605.5,80.5"/>
<polyline points="228.5,365.5 299.5,350.5 343.5,335.5 392.5,320.5 430.5,305.5 474.5,290.5 523.5,275.5 572.5,260.5 605.5,245.5 605.5,230.5 605.5,215.5 605.5,200.5 605.5,185.5 605.5,170.5 605.5,155.5 605.5,140.5 605.5,125.5 605.5,110.5 605.5,95.5 605.5,80.5"/>
<polyline points="113.5,365.5 184.5,350.5 261.5,335.5 288.5,320.5 315.5,305.5 337.5,290.5 348.5,275.5 354.5,260.5 370.5,245.5 386.5,230.5 392.5,215.5 408.5,200.5 414.5,185.5 419.5,170.5 425.5,155.5 430.5,140.5 441.5,125.5 452.5,110.5 463.5,95.5 468.5,80.5"/>
<polyline points="228.5,365.5 441.5,350.5 507.5,335.5 545.5,320.5 578.5,305.5 605.5,290.5 605.5,275.5 605.5,260.5 605.5,245.5 605.5,230.5 605.5,215.5 605.5,200.5 605.5,185.5 605.5,170.5 605.5,155.5 605.5,140.5 605.5,125.5 605.5,110.5 605.5,95.5 605.5,80.5"/>
<polyline points="151.5,365.5 288.5,350.5 414.5,335.5 474.5,320.5 518.5,305.5 556.5,290.5 572.5,275.5 583.5,260.5 589.5,245.5 605.5,230.5 605.5,215.5 605.5,200.5 605.5,185.5 605.5,170.5 605.5,155.5 605.5,140.5 605.5,125.5 605.5,110.5 605.5,95.5 605.5,80.5"/>
<polyline points="119.5,365.5 151.5,350.5 179.5,335.5 190.5,320.5 195.5,305.5 201.5,290.5 217.5,275.5 217.5,260.5 217.5,245.5 228.5,230.5 239.5,215.5 244.5,200.5 250.5,185.5 261.5,170.5 272.5,155.5 272.5,140.5 277.5,125.5 283.5,110.5 299.5,95.5 299.5,80.5"/>
<polyline points="157.5,365.5 228.5,350.5 261.5,335.5 299.5,320.5 337.5,305.5 376.5,290.5 408.5,275.5 441.5,260.5 474.5,245.5 512.5,230.5 539.5,215.5 567.5,200.5 605.5,185.5 605.5,170.5 605.5,155.5 605.5,140.5 605.5,125.5 605.5,110.5 605.5,95.5 605.5,80.5"/>
<polyline points="162.5,365.5 310.5,350.5 419.5,335.5 485.5,320.5 539.5,305.5 578.5,290.5 589.5,275.5 594.5,260.5 594.5,245.5 594.5,230.5 600.5,215.5 600.5,200.5 605.5,185.5 605.5,170.5 605.5,155.5 605.5,140.5 605.5,125.5 605.5,110.5 605.5,95.5 605.5,80.5"/>
<polyline points="304.5,365.5 474.5,350.5 545.5,335.5 567.5,320.5 594.5,305.5 600.5,290.5 605.5,275.5 605.5,260.5 605.5,245.5 605.5,230.5 605.5,215.5 605.5,200.5 605.5,185.5 605.5,170.5 605.5,155.5 605.5,140.5 605.5,125.5 605.5,110.5 605.5,95.5 605.5,80.5"/>
<polyline points="162.5,365.5 250.5,350.5 304.5,335.5 343.5,320.5 392.5,305.5 441.5,290.5 496.5,275.5 529.5,260.5 578.5,245.5 605.5,230.5 605.5,215.5 605.5,200.5 605.5,185.5 605.5,170.5 605.5,155.5 605.5,140.5 605.5,125.5 605.5,110.5 605.5,95.5 605.5,80.5"/>
<polyline points="294.5,365.5 408.5,350.5 457.5,335.5 507.5,320.5 556.5,305.5 600.5,290.5 605.5,275.5 605.5,260.5 605.5,245.5 605.5,230.5 605.5,215.5 605.5,200.5 605.5,185.5 605.5,170.5 605.5,155.5 605.5,140.5 605.5,125.5 605.5,110.5 605.5,95.5 605.5,80.5"/>
<polyline points="119.5,365.5 162.5,350.5 201.5,335.5 206.5,320.5 233.5,305.5 239.5,290.5 244.5,275.5 255.5,260.5 255.5,245.5 261.5,230.5 277.5,215.5 288.5,200.5 288.5,185.5 304.5,170.5 310.5,155.5 321.5,140.5 326.5,125.5 332.5,110.5 337.5,95.5 354.5,80.5"/>
<polyline points="141.5,365.5 255.5,350.5 376.5,335.5 452.5,320.5 501.5,305.5 534.5,290.5 550.5,275.5 572.5,260.5 578.5,245.5 578.5,230.5 583.5,215.5 589.5,200.5 594.5,185.5 600.5,170.5 600.5,155.5 600.5,140.5 605.5,125.5 605.5,110.5 605.5,95.5 605.5,80.5"/>
<polyline points="162.5,365.5 397.5,350.5 529.5,335.5 578.5,320.5 600.5,305.5 600.5,290.5 605.5,275.5 605.5,260.5 605.5,245.5 605.5,230.5 605.5,215.5 605.5,200.5 605.5,185.5 605.5,170.5 605.5,155.5 605.5,140.5 605.5,125.5 605.5,110.5 605.5,95.5 605.5,80.5"/>
<polyline points="179.5,365.5 283.5,350.5 326.5,335.5 337.5,320.5 354.5,305.5 370.5,290.5 392.5,275.5 408.5,260.5 425.5,245.5 441.5,230.5 457.5,215.5 479.5,200.5 496.5,185.5 518.5,170.5 529.5,155.5 545.5,140.5 561.5,125.5 572.5,110.5 589.5,95.5 605.5,80.5"/>
<polyline points="359.5,365.5 474.5,350.5 545.5,335.5 561.5,320.5 578.5,305.5 583.5,290.5 583.5,275.5 583.5,260.5 589.5,245.5 589.5,230.5 589.5,215.5 594.5,200.5 600.5,185.5 600.5,170.5 600.5,155.5 605.5,140.5 605.5,125.5 605.5,110.5 605.5,95.5 605.5,80.5"/>
<polyline points="108.5,365.5 119.5,350.5 135.5,335.5 135.5,320.5 151.5,305.5 157.5,290.5 162.5,275.5 184.5,260.5 195.5,245.5 206.5,230.5 217.5,215.5 217.5,200.5 233.5,185.5 244.5,170.5 261.5,155.5 266.5,140.5 277.5,125.5 283.5,110.5 294.5,95.5 299.5,80.5"/>
<polyline points="223.5,365.5 354.5,350.5 436.5,335.5 496.5,320.5 529.5,305.5 545.5,290.5 556.5,275.5 583.5,260.5 583.5,245.5 600.5,230.5 600.5,215.5 600.5,200.5 605.5,185.5 605.5,170.5 605.5,155.5 605.5,140.5 605.5,125.5 605.5,110.5 605.5,95.5 605.5,80.5"/>
<polyline points="266.5,365.5 452.5,350.5 512.5,335.5 529.5,320.5 550.5,305.5 567.5,290.5 578.5,275.5 600.5,260.5 605.5,245.5 605.5,230.5 605.5,215.5 605.5,200.5 605.5,185.5 605.5,170.5 605.5,155.5 605.5,140.5 605.5,125.5 605.5,110.5 605.5,95.5 605.5,80.5"/>
<polyline points="157.5,365.5 206.5,350.5 239.5,335.5 255.5,320.5 261.5,305.5 277.5,290.5 283.5,275.5 288.5,260.5 294.5,245.5 310.5,230.5 321.5,215.5 326.5,200.5 337.5,185.5 343.5,170.5 359.5,155.5 370.5,140.5 376.5,125.5 392.5,110.5 392.5,95.5 403.5,80.5"/>
<polyline points="228.5,365.5 299.5,350.5 365.5,335.5 419.5,320.5 485.5,305.5 550.5,290.5 605.5,275.5 605.5,260.5 605.5,245.5 605.5,230.5 605.5,215.5 605.5,200.5 605.5,185.5 605.5,170.5 605.5,155.5 605.5,140.5 605.5,125.5 605.5,110.5 605.5,95.5 605.5,80.5"/>
<polyline points="130.5,365.5 310.5,350.5 452.5,335.5 512.5,320.5 567.5,305.5 600.5,290.5 600.5,275.5 605.5,260.5 605.5,245.5 605.5,230.5 605.5,215.5 605.5,200.5 605.5,185.5 605.5,170.5 605.5,155.5 605.5,140.5 605.5,125.5 605.5,110.5 605.5,95.5 605.5,80.5"/>
<polyline points="102.5,365.5 190.5,350.5 403.5,335.5 539.5,320.5 583.5,305.5 600.5,290.5 600.5,275.5 600.5,260.5 600.5,245.5 605.5,230.5 605.5,215.5 605.5,200.5 605.5,185.5 605.5,170.5 605.5,155.5 605.5,140.5 605.5,125.5 605.5,110.5 605.5,95.5 605.5,80.5"/>
<polyline points="212.5,365.5 386.5,350.5 474.5,335.5 529.5,320.5 556.5,305.5 572.5,290.5 578.5,275.5 578.5,260.5 578.5,245.5 583.5,230.5 583.5,215.5 589.5,200.5 589.5,185.5 589.5,170.5 594.5,155.5 594.5,140.5 594.5,125.5 594.5,110.5 600.5,95.5 600.5,80.5"/>
<polyline points="124.5,365.5 212.5,350.5 261.5,335.5 266.5,320.5 294.5,305.5 315.5,290.5 326.5,275.5 337.5,260.5 359.5,245.5 376.5,230.5 392.5,215.5 408.5,200.5 430.5,185.5 441.5,170.5 457.5,155.5 468.5,140.5 485.5,125.5 501.5,110.5 523.5,95.5 529.5,80.5"/>
<polyline points="102.5,365.5 228.5,350.5 447.5,335.5 561.5,320.5 589.5,305.5 600.5,290.5 605.5,275.5 605.5,260.5 605.5,245.5 605.5,230.5 605.5,215.5 605.5,200.5 605.5,185.5 605.5,170.5 605.5,155.5 605.5,140.5 605.5,125.5 605.5,110.5 605.5,95.5 605.5,80.5"/>
<polyline points="151.5,365.5 272.5,350.5 359.5,335.5 436.5,320.5 507.5,305.5 572.5,290.5 605.5,275.5 605.5,260.5 605.5,245.5 605.5,230.5 605.5,215.5 605.5,200.5 605.5,185.5 605.5,170.5 605.5,155.5 605.5,140.5 605.5,125.5 605.5,110.5 605.5,95.5 605.5,80.5"/>
<polyline points="212.5,365.5 315.5,350.5 359.5,335.5 403.5,320.5 436.5,305.5 485.5,290.5 518.5,275.5 550.5,260.5 589.5,245.5 605.5,230.5 605.5,215.5 605.5,200.5 605.5,185.5 605.5,170.5 605.5,155.5 605.5,140.5 605.5,125.5 605.5,110.5 605.5,95.5 605.5,80.5"/>
<polyline points="113.5,365.5 146.5,350.5 162.5,335.5 168.5,320.5 173.5,305.5 179.5,290.5 184.5,275.5 201.5,260.5 201.5,245.5 206.5,230.5 223.5,215.5 233.5,200.5 239.5,185.5 244.5,170.5 261.5,155.5 261.5,140.5 277.5,125.5 283.5,110.5 294.5,95.5 304.5,80.5"/>
<polyline points="168.5,365.5 250.5,350.5 288.5,335.5 315.5,320.5 354.5,305.5 386.5,290.5 408.5,275.5 436.5,260.5 474.5,245.5 501.5,230.5 534.5,215.5 572.5,200.5 594.5,185.5 605.5,170.5 605.5,155.5 605.5,140.5 605.5,125.5 605.5,110.5 605.5,95.5 605.5,80.5"/>
<polyline points="206.5,365.5 463.5,350.5 539.5,335.5 556.5,320.5 583.5,305.5 583.5,290.5 583.5,275.5 589.5,260.5 594.5,245.5 594.5,230.5 600.5,215.5 605.5,200.5 605.5,185.5 605.5,170.5 605.5,155.5 605.5,140.5 605.5,125.5 605.5,110.5 605.5,95.5 605.5,80.5"/>
<polyline points="168.5,365.5 217.5,350.5 228.5,335.5 228.5,320.5 250.5,305.5 250.5,290.5 266.5,275.5 277.5,260.5 299.5,245.5 299.5,230.5 315.5,215.5 332.5,200.5 337.5,185.5 354.5,170.5 365.5,155.5 370.5,140.5 376.5,125.5 397.5,110.5 403.5,95.5 425.5,80.5"/>
<polyline points="310.5,365.5 392.5,350.5 447.5,335.5 479.5,320.5 534.5,305.5 578.5,290.5 605.5,275.5 605.5,260.5 605.5,245.5 605.5,230.5 605.5,215.5 605.5,200.5 605.5,185.5 605.5,170.5 605.5,155.5 605.5,140.5 605.5,125.5 605.5,110.5 605.5,95.5 605.5,80.5"/>
<polyline points="294.5,365.5 479.5,350.5 534.5,335.5 567.5,320.5 589.5,305.5 589.5,290.5 594.5,275.5 605.5,260.5 605.5,245.5 605.5,230.5 605.5,215.5 605.5,200.5 605.5,185.5 605.5,170.5 605.5,155.5 605.5,140.5 605.5,125.5 605.5,110.5 605.5,95.5 605.5,80.5"/>
<polyline points="233.5,365.5 447.5,350.5 534.5,335.5 567.5,320.5 583.5,305.5 594.5,290.5 600.5,275.5 605.5,260.5 605.5,245.5 605.5,230.5 605.5,215.5 605.5,200.5 605.5,185.5 605.5,170.5 605.5,155.5 605.5,140.5 605.5,125.5 605.5,110.5 605.5,95.5 605.5,80.5"/>
<polyline points="212.5,365.5 392.5,350.5 501.5,335.5 550.5,320.5 567.5,305.5 583.5,290.5 589.5,275.5 600.5,260.5 600.5,245.5 605.5,230.5 605.5,215.5 605.5,200.5 605.5,185.5 605.5,170.5 605.5,155.5 605.5,140.5 605.5,125.5 605.5,110.5 605.5,95.5 605.5,80.5"/>
<polyline points="212.5,365.5 365.5,350.5 447.5,335.5 501.5,320.5 534.5,305.5 556.5,290.5 561.5,275.5 572.5,260.5 589.5,245.5 600.5,230.5 600.5,215.5 605.5,200.5 605.5,185.5 605.5,170.5 605.5,155.5 605.5,140.5 605.5,125.5 605.5,110.5 605.5,95.5 605.5,80.5"/>
<polyline points="217.5,365.5 376.5,350.5 463.5,335.5 507.5,320.5 529.5,305.5 539.5,290.5 561.5,275.5 572.5,260.5 583.5,245.5 589.5,230.5 600.5,215.5 605.5,200.5 605.5,185.5 605.5,170.5 605.5,155.5 605.5,140.5 605.5,125.5 605.5,110.5 605.5,95.5 605.5,80.5"/>
<polyline points="228.5,365.5 299.5,350.5 326.5,335.5 365.5,320.5 403.5,305.5 425.5,290.5 457.5,275.5 485.5,260.5 523.5,245.5 556.5,230.5 594.5,215.5 605.5,200.5 605.5,185.5 605.5,170.5 605.5,155.5 605.5,140.5 605.5,125.5 605.5,110.5 605.5,95.5 605.5,80.5"/>
<polyline points="97.5,365.5 212.5,350.5 392.5,335.5 507.5,320.5 567.5,305.5 589.5,290.5 605.5,275.5 605.5,260.5 605.5,245.5 605.5,230.5 605.5,215.5 605.5,200.5 605.5,185.5 605.5,170.5 605.5,155.5 605.5,140.5 605.5,125.5 605.5,110.5 605.5,95.5 605.5,80.5"/>
<polyline points="567.5,365.5 589.5,350.5 594.5,335.5 594.5,320.5 594.5,305.5 594.5,290.5 605.5,275.5 605.5,260.5 605.5,245.5 605.5,230.5 605.5,215.5 605.5,200.5 605.5,185.5 605.5,170.5 605.5,155.5 605.5,140.5 605.5,125.5 605.5,110.5 605.5,95.5 605.5,80.5"/>
<polyline points="130.5,365.5 304.5,350.5 414.5,335.5 468.5,320.5 490.5,305.5 518.5,290.5 529.5,275.5 534.5,260.5 539.5,245.5 539.5,230.5 545.5,215.5 550.5,200.5 550.5,185.5 556.5,170.5 567.5,155.5 567.5,140.5 578.5,125.5 578.5,110.5 594.5,95.5 594.5,80.5"/>
<polyline points="146.5,365.5 299.5,350.5 425.5,335.5 485.5,320.5 512.5,305.5 534.5,290.5 550.5,275.5 561.5,260.5 572.5,245.5 589.5,230.5 594.5,215.5 605.5,200.5 605.5,185.5 605.5,170.5 605.5,155.5 605.5,140.5 605.5,125.5 605.5,110.5 605.5,95.5 605.5,80.5"/>
<polyline points="119.5,365.5 294.5,350.5 457.5,335.5 545.5,320.5 567.5,305.5 572.5,290.5 589.5,275.5 600.5,260.5 605.5,245.5 605.5,230.5 605.5,215.5 605.5,200.5 605.5,185.5 605.5,170.5 605.5,155.5 605.5,140.5 605.5,125.5 605.5,110.5 605.5,95.5 605.5,80.5"/>
<polyline points="228.5,365.5 463.5,350.5 539.5,335.5 572.5,320.5 578.5,305.5 594.5,290.5 594.5,275.5 605.5,260.5 605.5,245.5 605.5,230.5 605.5,215.5 605.5,200.5 605.5,185.5 605.5,170.5 605.5,155.5 605.5,140.5 605.5,125.5 605.5,110.5 605.5,95.5 605.5,80.5"/>
<polyline points="119.5,365.5 157.5,350.5 168.5,335.5 173.5,320.5 179.5,305.5 195.5,290.5 195.5,275.5 201.5,260.5 212.5,245.5 223.5,230.5 223.5,215.5 233.5,200.5 244.5,185.5 255.5,170.5 255.5,155.5 272.5,140.5 277.5,125.5 277.5,110.5 294.5,95.5 299.5,80.5"/>
<polyline points="102.5,365.5 195.5,350.5 386.5,335.5 512.5,320.5 572.5,305.5 589.5,290.5 605.5,275.5 605.5,260.5 605.5,245.5 605.5,230.5 605.5,215.5 605.5,200.5 605.5,185.5 605.5,170.5 605.5,155.5 605.5,140.5 605.5,125.5 605.5,110.5 605.5,95.5 605.5,80.5"/>
<polyline points="266.5,365.5 354.5,350.5 414.5,335.5 474.5,320.5 539.5,305.5 594.5,290.5 605.5,275.5 605.5,260.5 605.5,245.5 605.5,230.5 605.5,215.5 605.5,200.5 605.5,185.5 605.5,170.5 605.5,155.5 605.5,140.5 605.5,125.5 605.5,110.5 605.5,95.5 605.5,80.5"/>
<polyline points="244.5,365.5 392.5,350.5 485.5,335.5 534.5,320.5 556.5,305.5 572.5,290.5 578.5,275.5 578.5,260.5 594.5,245.5 594.5,230.5 605.5,215.5 605.5,200.5 605.5,185.5 605.5,170.5 605.5,155.5 605.5,140.5 605.5,125.5 605.5,110.5 605.5,95.5 605.5,80.5"/>
<polyline points="266.5,365.5 463.5,350.5 539.5,335.5 561.5,320.5 578.5,305.5 589.5,290.5 594.5,275.5 594.5,260.5 600.5,245.5 605.5,230.5 605.5,215.5 605.5,200.5 605.5,185.5 605.5,170.5 605.5,155.5 605.5,140.5 605.5,125.5 605.5,110.5 605.5,95.5 605.5,80.5"/>
<polyline points="288.5,365.5 381.5,350.5 436.5,335.5 485.5,320.5 529.5,305.5 594.5,290.5 605.5,275.5 605.5,260.5 605.5,245.5 605.5,230.5 605.5,215.5 605.5,200.5 605.5,185.5 605.5,170.5 605.5,155.5 605.5,140.5 605.5,125.5 605.5,110.5 605.5,95.5 605.5,80.5"/>
<polyline points="173.5,365.5 348.5,350.5 452.5,335.5 507.5,320.5 539.5,305.5 556.5,290.5 572.5,275.5 583.5,260.5 605.5,245.5 605.5,230.5 605.5,215.5 605.5,200.5 605.5,185.5 605.5,170.5 605.5,155.5 605.5,140.5 605.5,125.5 605.5,110.5 605.5,95.5 605.5,80.5"/>
<polyline points="233.5,365.5 403.5,350.5 501.5,335.5 534.5,320.5 561.5,305.5 583.5,290.5 589.5,275.5 600.5,260.5 600.5,245.5 600.5,230.5 605.5,215.5 605.5,200.5 605.5,185.5 605.5,170.5 605.5,155.5 605.5,140.5 605.5,125.5 605.5,110.5 605.5,95.5 605.5,80.5"/>
<polyline points="173.5,365.5 326.5,350.5 425.5,335.5 490.5,320.5 545.5,305.5 578.5,290.5 600.5,275.5 605.5,260.5 605.5,245.5 605.5,230.5 605.5,215.5 605.5,200.5 605.5,185.5 605.5,170.5 605.5,155.5 605.5,140.5 605.5,125.5 605.5,110.5 605.5,95.5 605.5,80.5"/>
<polyline points="168.5,365.5 419.5,350.5 534.5,335.5 567.5,320.5 578.5,305.5 578.5,290.5 583.5,275.5 589.5,260.5 589.5,245.5 589.5,230.5 594.5,215.5 594.5,200.5 594.5,185.5 600.5,170.5 600.5,155.5 605.5,140.5 605.5,125.5 605.5,110.5 605.5,95.5 605.5,80.5"/>
<polyline points="206.5,365.5 370.5,350.5 457.5,335.5 507.5,320.5 529.5,305.5 556.5,290.5 567.5,275.5 578.5,260.5 583.5,245.5 594.5,230.5 605.5,215.5 605.5,200.5 605.5,185.5 605.5,170.5 605.5,155.5 605.5,140.5 605.5,125.5 605.5,110.5 605.5,95.5 605.5,80.5"/>
<polyline points="146.5,365.5 304.5,350.5 436.5,335.5 496.5,320.5 534.5,305.5 545.5,290.5 556.5,275.5 572.5,260.5 578.5,245.5 578.5,230.5 578.5,215.5 583.5,200.5 583.5,185.5 589.5,170.5 600.5,155.5 600.5,140.5 600.5,125.5 600.5,110.5 605.5,95.5 605.5,80.5"/>
<polyline points="206.5,365.5 392.5,350.5 501.5,335.5 545.5,320.5 583.5,305.5 594.5,290.5 600.5,275.5 600.5,260.5 600.5,245.5 605.5,230.5 605.5,215.5 605.5,200.5 605.5,185.5 605.5,170.5 605.5,155.5 605.5,140.5 605.5,125.5 605.5,110.5 605.5,95.5 605.5,80.5"/>
<polyline points="162.5,365.5 299.5,350.5 408.5,335.5 479.5,320.5 534.5,305.5 578.5,290.5 594.5,275.5 600.5,260.5 605.5,245.5 605.5,230.5 605.5,215.5 605.5,200.5 605.5,185.5 605.5,170.5 605.5,155.5 605.5,140.5 605.5,125.5 605.5,110.5 605.5,95.5 605.5,80.5"/>
<polyline points="233.5,365.5 283.5,350.5 326.5,335.5 365.5,320.5 419.5,305.5 452.5,290.5 501.5,275.5 545.5,260.5 600.5,245.5 605.5,230.5 605.5,215.5 605.5,200.5 605.5,185.5 605.5,170.5 605.5,155.5 605.5,140.5 605.5,125.5 605.5,110.5 605.5,95.5 605.5,80.5"/>
<polyline points="162.5,365.5 392.5,350.5 507.5,335.5 545.5,320.5 556.5,305.5 572.5,290.5 578.5,275.5 578.5,260.5 578.5,245.5 583.5,230.5 589.5,215.5 589.5,200.5 594.5,185.5 594.5,170.5 600.5,155.5 600.5,140.5 600.5,125.5 600.5,110.5 605.5,95.5 605.5,80.5"/>
<polyline points="239.5,365.5 419.5,350.5 490.5,335.5 523.5,320.5 556.5,305.5 572.5,290.5 594.5,275.5 605.5,260.5 605.5,245.5 605.5,230.5 605.5,215.5 605.5,200.5 605.5,185.5 605.5,170.5 605.5,155.5 605.5,140.5 605.5,125.5 605.5,110.5 605.5,95.5 605.5,80.5"/>
<polyline points="113.5,365.5 250.5,350.5 425.5,335.5 518.5,320.5 567.5,305.5 589.5,290.5 594.5,275.5 600.5,260.5 600.5,245.5 605.5,230.5 605.5,215.5 605.5,200.5 605.5,185.5 605.5,170.5 605.5,155.5 605.5,140.5 605.5,125.5 605.5,110.5 605.5,95.5 605.5,80.5"/>
<polyline points="108.5,365.5 310.5,350.5 468.5,335.5 539.5,320.5 556.5,305.5 572.5,290.5 594.5,275.5 605.5,260.5 605.5,245.5 605.5,230.5 605.5,215.5 605.5,200.5 605.5,185.5 605.5,170.5 605.5,155.5 605.5,140.5 605.5,125.5 605.5,110.5 605.5,95.5 605.5,80.5"/>
</g>
<g stroke="#000" stroke-width="1" shape-rendering="crispEdges" fill="none">
<rect x="65.5" y="65.5" width="550" height="310"/>
<path d="M128.5 375V370M128.5 66V71M181.5 375V365M181.5 66V76M234.5 375V370M234.5 66V71M287.5 375V365M287.5 66V76M340.5 375V370M340.5 66V71M393.5 375V365M393.5 66V76M446.5 375V370M446.5 66V71M499.5 375V365M499.5 66V76M552.5 375V370M552.5 66V71M605.5 375V365M605.5 66V76M66 75.5H76M615 75.5H605M66 104.5H71M615 104.5H610M66 133.5H71M615 133.5H610M66 162.5H71M615 162.5H610M66 191.5H71M615 191.5H610M66 220.5H76M615 220.5H605M66 249.5H71M615 249.5H610M66 278.5H71M615 278.5H610M66 307.5H71M615 307.5H610M66 336.5H71M615 336.5H610"/>
</g>
<text class="t" x="358" y="30" text-anchor="middle" style="letter-spacing:0.2px">T1065s2-D1</text>
<text class="t" x="335.5" y="420" text-anchor="middle" style="letter-spacing:0.1px">Percent of Residues (CA)</text>
<text class="t" transform="translate(30,233) rotate(-90)" text-anchor="middle" style="letter-spacing:0.2px">Distance Cutoff, A</text>
<text class="n" transform="translate(65.5,395) scale(1.15,1)" text-anchor="middle">0</text>
<text class="n" transform="translate(181.05,395) scale(1.15,1)" text-anchor="middle">20</text>
<text class="n" transform="translate(287.2,395) scale(1.15,1)" text-anchor="middle">40</text>
<text class="n" transform="translate(393.0,395) scale(1.15,1)" text-anchor="middle">60</text>
<text class="n" transform="translate(499.0,395) scale(1.15,1)" text-anchor="middle">80</text>
<text class="n" transform="translate(609.95,395) scale(1.15,1)" text-anchor="middle">100</text>
<text class="n" transform="translate(55,375.3) rotate(-90) scale(1.15,1)" text-anchor="middle">0</text>
<text class="n" transform="translate(55,220.45) rotate(-90) scale(1.15,1)" text-anchor="middle">5</text>
<text class="n" transform="translate(55,65.35) rotate(-90) scale(1.15,1)" text-anchor="middle">10</text>
</svg>
</body></html>
